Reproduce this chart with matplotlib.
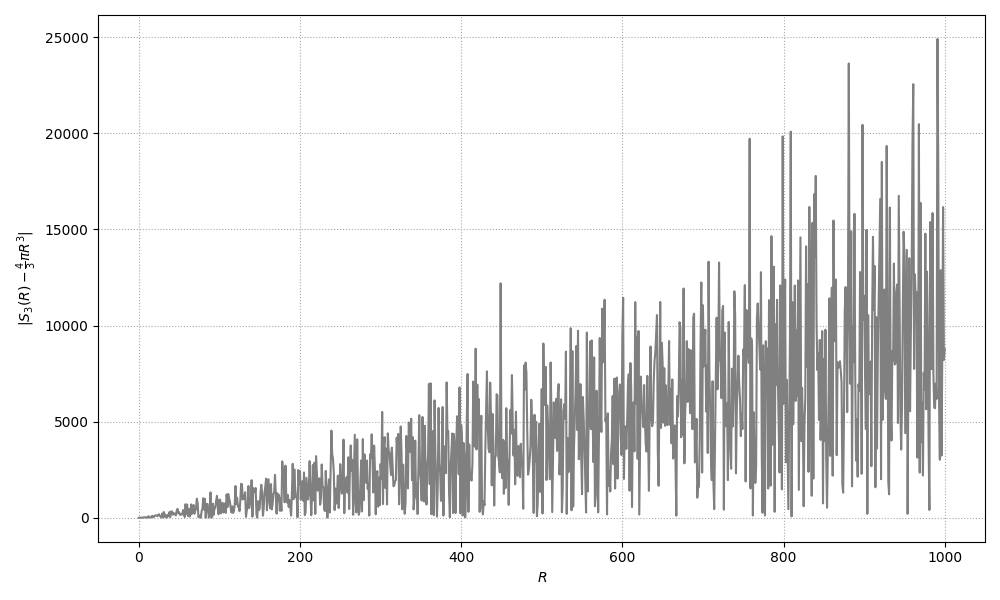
import numpy as np
import matplotlib
matplotlib.use('Agg')
import matplotlib.pyplot as plt

# radii shown on the x axis
R_max = 1000
radii = np.arange(0, R_max + 1)

# S_3(R): lattice points with x^2+y^2+z^2 <= R^2 (the quantity named on the y axis)
k = np.arange(-R_max, R_max + 1)
xx, yy = np.meshgrid(k, k)
sq = (xx**2 + yy**2).ravel()
sq = sq[sq <= R_max**2]
r2 = np.bincount(sq, minlength=R_max**2 + 1)
c2 = np.cumsum(r2)  # points in the disc of radius sqrt(t)

S3 = np.array([c2[R * R - np.arange(-R, R + 1)**2].sum() for R in radii])
err = np.abs(S3 - 4.0 / 3.0 * np.pi * radii.astype(float)**3)

fig, ax = plt.subplots(figsize=(10, 6), dpi=100)
ax.plot(radii, err, color='gray', linewidth=1.5)
ax.grid(True, linestyle=':', color='#aaaaaa')
ax.set_xlabel('$R$')
ax.set_ylabel(r'$|S_3(R) - \frac{4}{3}\pi R^3|$')
plt.tight_layout()
plt.savefig('out.png')
